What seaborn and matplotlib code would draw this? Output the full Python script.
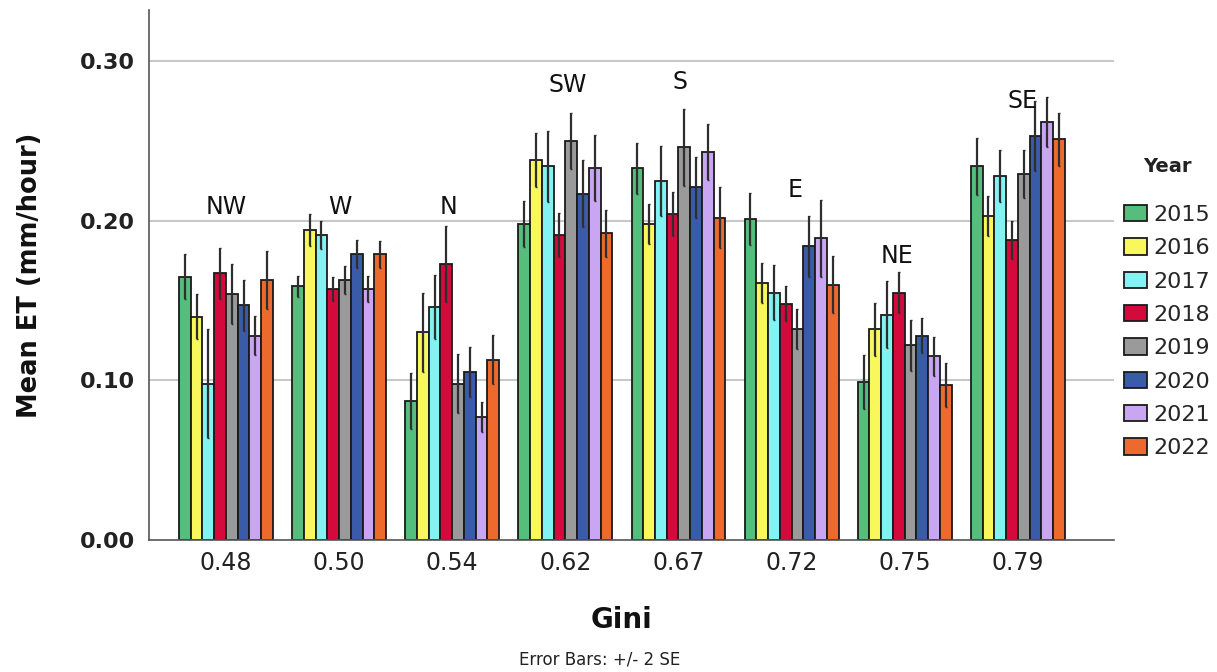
import matplotlib
matplotlib.use("Agg")
import matplotlib.pyplot as plt
import seaborn as sns
import pandas as pd

# Gini coefficient groups and the wind-direction region of each group
gini = ["0.48", "0.50", "0.54", "0.62", "0.67", "0.72", "0.75", "0.79"]
regions = ["NW", "W", "N", "SW", "S", "E", "NE", "SE"]
region_label_y = [0.2085, 0.2085, 0.2085, 0.285, 0.287, 0.219, 0.178, 0.275]
region_label_dx = [0.0, 0.01, -0.03, 0.02, 0.01, 0.03, -0.07, 0.04]
years = ["2015", "2016", "2017", "2018", "2019", "2020", "2021", "2022"]

# Mean ET (mm/hour) per Gini group, one list per year
et_2015 = [0.165, 0.159, 0.087, 0.198, 0.233, 0.201, 0.099, 0.234]
et_2016 = [0.140, 0.194, 0.130, 0.238, 0.198, 0.161, 0.132, 0.203]
et_2017 = [0.098, 0.191, 0.146, 0.234, 0.225, 0.155, 0.141, 0.228]
et_2018 = [0.167, 0.157, 0.173, 0.191, 0.204, 0.148, 0.155, 0.188]
et_2019 = [0.154, 0.163, 0.098, 0.250, 0.246, 0.132, 0.122, 0.229]
et_2020 = [0.147, 0.179, 0.105, 0.217, 0.221, 0.184, 0.128, 0.253]
et_2021 = [0.128, 0.157, 0.077, 0.233, 0.243, 0.189, 0.115, 0.262]
et_2022 = [0.163, 0.179, 0.113, 0.192, 0.202, 0.160, 0.097, 0.251]

# Error bar half-lengths (2 standard errors), one list per year
se2_2015 = [0.014, 0.0065, 0.0175, 0.0146, 0.016, 0.0165, 0.017, 0.018]
se2_2016 = [0.014, 0.010, 0.025, 0.0167, 0.0127, 0.0123, 0.0167, 0.0127]
se2_2017 = [0.034, 0.0087, 0.020, 0.022, 0.022, 0.0173, 0.021, 0.016]
se2_2018 = [0.016, 0.0075, 0.024, 0.014, 0.0138, 0.011, 0.0127, 0.012]
se2_2019 = [0.0186, 0.0088, 0.0186, 0.0177, 0.0242, 0.0125, 0.016, 0.015]
se2_2020 = [0.016, 0.0088, 0.0157, 0.021, 0.0192, 0.0192, 0.011, 0.022]
se2_2021 = [0.0123, 0.0081, 0.0094, 0.0206, 0.0177, 0.0242, 0.012, 0.0157]
se2_2022 = [0.018, 0.0086, 0.0152, 0.0148, 0.0192, 0.0177, 0.0138, 0.0165]

et_by_year = [et_2015, et_2016, et_2017, et_2018, et_2019, et_2020, et_2021, et_2022]
se_by_year = [se2_2015, se2_2016, se2_2017, se2_2018, se2_2019, se2_2020, se2_2021, se2_2022]

year_colors = ["#55BE7D", "#F8F85C", "#82F2F2", "#D40A3C",
               "#9A9A9A", "#3A5BA8", "#C9A6F2", "#EE6A2C"]

rows = []
for yr, vals in zip(years, et_by_year):
    for g, v in zip(gini, vals):
        rows.append({"Gini": g, "Year": yr, "ET": v})
df = pd.DataFrame(rows)

sns.set_style("white")
fig = plt.figure(figsize=(12.17, 6.72), dpi=100)
ax = fig.add_axes([149 / 1217, 1 - 540 / 672, (1114 - 149) / 1217, 530 / 672])

sns.barplot(data=df, x="Gini", y="ET", hue="Year", order=gini, hue_order=years,
            palette=year_colors, saturation=1, errorbar=None, width=0.83,
            edgecolor="#1a1a1a", linewidth=1.3, ax=ax, zorder=2)

# +/- 2 SE error bars on each bar
for cont, errs in zip(ax.containers, se_by_year):
    xs = [p.get_x() + p.get_width() / 2 for p in cont.patches]
    ys = [p.get_height() for p in cont.patches]
    ax.errorbar(xs, ys, yerr=errs, fmt="none", ecolor="#2e2e2e",
                elinewidth=1.6, capsize=1.0, capthick=1.0, zorder=3)

# Region names above the groups
for i, (name, ly, dx) in enumerate(zip(regions, region_label_y, region_label_dx)):
    ax.text(i + dx, ly, name, ha="center", va="center", fontsize=17,
            color="#111111", zorder=4)

ax.set_ylim(0, 0.332)
ax.set_xlim(-0.68, 7.85)
ax.set_yticks([0.0, 0.1, 0.2, 0.3])
ax.set_yticklabels(["0.00", "0.10", "0.20", "0.30"])
ax.tick_params(axis="y", length=0, pad=10, labelsize=16, labelcolor="#222222")
ax.tick_params(axis="x", length=0, pad=8, labelsize=17, labelcolor="#222222")
for lab in ax.get_yticklabels():
    lab.set_fontweight("bold")

for yv in [0.1, 0.2, 0.3]:
    ax.axhline(yv, color="#C8C8C8", lw=1.5, zorder=0)

for side in ["top", "right"]:
    ax.spines[side].set_visible(False)
for side in ["left", "bottom"]:
    ax.spines[side].set_color("#555555")
    ax.spines[side].set_linewidth(1.2)

ax.set_ylabel("Mean ET (mm/hour)", fontsize=18.5, fontweight="bold", color="#111111")
ax.yaxis.set_label_coords(-(149 - 30) / 965, 0.5)
ax.yaxis.label.set_va("center")
ax.set_xlabel("Gini", fontsize=20, fontweight="bold", color="#111111")
ax.xaxis.set_label_coords((621 - 149) / 965, -(620 - 540) / 530)
ax.xaxis.label.set_va("center")

fig.text(600 / 1217, 1 - 660 / 672, "Error Bars: +/- 2 SE", ha="center", va="center",
         fontsize=12, color="#222222")

handles, labels = ax.get_legend_handles_labels()
if ax.legend_:
    ax.legend_.remove()
fig.text(1167 / 1217, 1 - 166 / 672, "Year", ha="center", va="center",
         fontsize=14, fontweight="bold", color="#222222")
leg = fig.legend(handles, labels, loc="upper left",
                 bbox_to_anchor=(1124 / 1217, 1 - 205 / 672), frameon=False,
                 fontsize=16, handlelength=1.05, handleheight=0.75,
                 handletextpad=0.25, labelspacing=0.6, borderpad=0,
                 borderaxespad=0)

fig.savefig("out.png", dpi=100, facecolor="white")
